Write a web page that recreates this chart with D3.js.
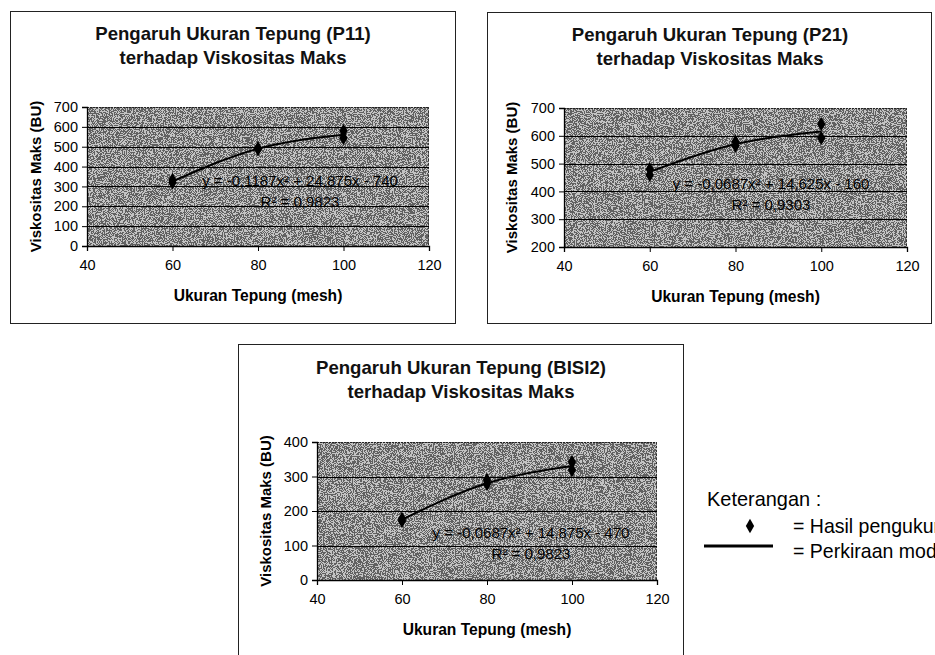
<!DOCTYPE html>
<html>
<head>
<meta charset="utf-8">
<script src="https://cdn.jsdelivr.net/npm/d3@7"></script>
<style>
  html, body { margin: 0; padding: 0; background: #fff; overflow: hidden; }
  svg { display: block; font-family: "Liberation Sans", Arial, sans-serif; }
</style>
</head>
<body>
<svg id="fig" width="935" height="655"></svg>
<script>
// Mesh sizes and measured peak viscosity (two replicates per mesh size)
const meshSizes = [60, 60, 80, 80, 100, 100];
const viscP11  = [332, 320, 488, 492, 579, 544];
const viscP21  = [480, 459, 579, 564, 642, 592];
const viscBISI2 = [177, 171, 290, 278, 342, 319];

// Quadratic trend-line values at each mesh size
const fitMesh  = [60, 80, 100];
const fitP11   = [325.2, 490.3, 560.5];
const fitP21   = [470.2, 570.3, 615.5];
const fitBISI2 = [175.2, 280.3, 330.5];

const xTicks = [40, 60, 80, 100, 120];
const yTicksP11 = [0, 100, 200, 300, 400, 500, 600, 700];
const yTicksP21 = [200, 300, 400, 500, 600, 700];
const yTicksBISI2 = [0, 100, 200, 300, 400];

const titlesP11 = ["Pengaruh Ukuran Tepung (P11)", "terhadap Viskositas Maks"];
const titlesP21 = ["Pengaruh Ukuran Tepung (P21)", "terhadap Viskositas Maks"];
const titlesBISI2 = ["Pengaruh Ukuran Tepung (BISI2)", "terhadap Viskositas Maks"];

const eqP11 = ["y = -0,1187x² + 24,875x - 740", "R² = 0,9823"];
const eqP21 = ["y = -0,0687x² + 14,625x - 160", "R² = 0,9303"];
const eqBISI2 = ["y = -0,0687x² + 14,875x - 470", "R² = 0,9823"];

const xLabel = "Ukuran Tepung (mesh)";
const yLabel = "Viskositas Maks (BU)";
const legendTitle = "Keterangan :";
const legendItems = ["= Hasil pengukuran", "= Perkiraan model"];

const svg = d3.select("#fig");
const defs = svg.append("defs");

// speckled black/white halftone texture for the plot backgrounds
const f = defs.append("filter").attr("id", "grain")
  .attr("x", 0).attr("y", 0).attr("width", 1).attr("height", 1);
f.append("feTurbulence").attr("type", "fractalNoise")
  .attr("baseFrequency", 1.1).attr("numOctaves", 1).attr("seed", 11);
f.append("feColorMatrix").attr("type", "matrix")
  .attr("values", "0.33 0.33 0.33 0 0  0.33 0.33 0.33 0 0  0.33 0.33 0.33 0 0  0 0 0 0 1");
const ct = f.append("feComponentTransfer");
["R", "G", "B"].forEach(c => ct.append("feFunc" + c).attr("type", "discrete").attr("tableValues", "0 0 1 1"));

function drawChart(cfg) {
  const g = svg.append("g");
  // frame
  g.append("rect")
    .attr("x", cfg.box[0] + 0.5).attr("y", cfg.box[1] + 0.5)
    .attr("width", cfg.box[2]).attr("height", cfg.box[3])
    .attr("fill", "#fff").attr("stroke", "#222").attr("stroke-width", 1);

  const [pl, pt, pr, pb] = cfg.plot;
  const x = d3.scaleLinear().domain([40, 120]).range([pl, pr]);
  const y = d3.scaleLinear().domain(cfg.yDomain).range([pb, pt]);

  // titles
  cfg.titles.forEach((t, i) => {
    g.append("text").attr("x", cfg.titleX).attr("y", cfg.titleY + i * 24)
      .attr("text-anchor", "middle").attr("font-size", 18.6).attr("font-weight", "bold")
      .attr("fill", "#111").text(t);
  });

  // plot area
  g.append("rect").attr("x", pl).attr("y", pt).attr("width", pr - pl).attr("height", pb - pt)
    .attr("fill", "#9e9e9e");
  g.append("rect").attr("x", pl).attr("y", pt).attr("width", pr - pl).attr("height", pb - pt)
    .attr("filter", "url(#grain)").attr("opacity", 0.38);
  g.append("line").attr("x1", pl).attr("x2", pr).attr("y1", pt + 0.5).attr("y2", pt + 0.5)
    .attr("stroke", "#222").attr("stroke-dasharray", "2,1");
  g.append("line").attr("x1", pr - 0.5).attr("x2", pr - 0.5).attr("y1", pt).attr("y2", pb)
    .attr("stroke", "#333").attr("stroke-dasharray", "2,2");

  // horizontal gridlines
  g.append("g").selectAll("line").data(cfg.yTicks.slice(1, -1)).join("line")
    .attr("x1", pl).attr("x2", pr)
    .attr("y1", d => Math.round(y(d)) + 0.5).attr("y2", d => Math.round(y(d)) + 0.5)
    .attr("stroke", "#000").attr("stroke-width", 1.2);

  // axes
  const xa = g.append("g").attr("transform", `translate(0,${pb})`)
    .call(d3.axisBottom(x).tickValues(xTicks).tickSize(5).tickPadding(9));
  const ya = g.append("g").attr("transform", `translate(${pl},0)`)
    .call(d3.axisLeft(y).tickValues(cfg.yTicks).tickSize(5).tickPadding(4));
  [xa, ya].forEach(a => {
    a.select(".domain").attr("stroke", "#000").attr("stroke-width", 1.3);
    a.selectAll(".tick line").attr("stroke", "#000");
    a.selectAll("text").attr("font-size", 14.5).attr("fill", "#000")
      .attr("font-family", "'Liberation Sans', Arial, sans-serif");
  });

  // axis titles
  g.append("text").attr("x", (pl + pr) / 2).attr("y", pb + 55)
    .attr("text-anchor", "middle").attr("font-size", 15.6).attr("font-weight", "bold")
    .text(xLabel);
  g.append("text")
    .attr("transform", `translate(${cfg.yTitleX},${(pt + pb) / 2}) rotate(-90)`)
    .attr("text-anchor", "middle").attr("font-size", 15).attr("font-weight", "bold")
    .text(yLabel);

  // trend line
  const line = d3.line().x(d => x(d[0])).y(d => y(d[1])).curve(d3.curveNatural);
  g.append("path").datum(fitMesh.map((m, i) => [m, cfg.fit[i]]))
    .attr("d", line).attr("fill", "none").attr("stroke", "#000").attr("stroke-width", 2);

  // measured points
  g.append("g").selectAll("path").data(meshSizes.map((m, i) => [m, cfg.values[i]])).join("path")
    .attr("transform", d => `translate(${x(d[0])},${y(d[1])})`)
    .attr("d", d3.symbol().type(d3.symbolDiamond).size(60))
    .attr("fill", "#000");

  // equation labels
  g.append("text").attr("x", cfg.eqX).attr("y", cfg.eqY)
    .attr("text-anchor", "middle").attr("font-size", 15).attr("fill", "#000").text(cfg.eq[0]);
  g.append("text").attr("x", cfg.eqX).attr("y", cfg.eqY + 21)
    .attr("text-anchor", "middle").attr("font-size", 15).attr("fill", "#000").text(cfg.eq[1]);
}

drawChart({
  box: [10, 11, 445, 312], plot: [87, 107, 429, 246],
  yDomain: [0, 700], yTicks: yTicksP11, titles: titlesP11, titleX: 233, titleY: 40,
  yTitleX: 41, values: viscP11, fit: fitP11, eq: eqP11, eqX: 300, eqY: 186
});
drawChart({
  box: [487, 12, 444, 311], plot: [564, 108, 907, 247],
  yDomain: [200, 700], yTicks: yTicksP21, titles: titlesP21, titleX: 710, titleY: 41,
  yTitleX: 517, values: viscP21, fit: fitP21, eq: eqP21, eqX: 771, eqY: 189
});
drawChart({
  box: [238, 344, 445, 330], plot: [317, 442, 657, 580],
  yDomain: [0, 400], yTicks: yTicksBISI2, titles: titlesBISI2, titleX: 461, titleY: 374,
  yTitleX: 271, values: viscBISI2, fit: fitBISI2, eq: eqBISI2, eqX: 531, eqY: 538
});

// legend (its labels run past the right edge of the page)
const lg = svg.append("g");
lg.append("text").attr("transform", "translate(707,506) scale(0.95,1)")
  .attr("font-size", 21).attr("fill", "#000").text(legendTitle);
lg.append("path").attr("transform", "translate(750,526)")
  .attr("d", d3.symbol().type(d3.symbolDiamond).size(60)).attr("fill", "#000");
lg.append("line").attr("x1", 704).attr("x2", 773).attr("y1", 546).attr("y2", 546)
  .attr("stroke", "#000").attr("stroke-width", 3);
lg.append("text").attr("transform", "translate(793,533) scale(0.93,1)")
  .attr("font-size", 21).attr("fill", "#000").text(legendItems[0]);
lg.append("text").attr("transform", "translate(793,558) scale(0.93,1)")
  .attr("font-size", 21).attr("fill", "#000").text(legendItems[1]);
</script>
</body>
</html>
